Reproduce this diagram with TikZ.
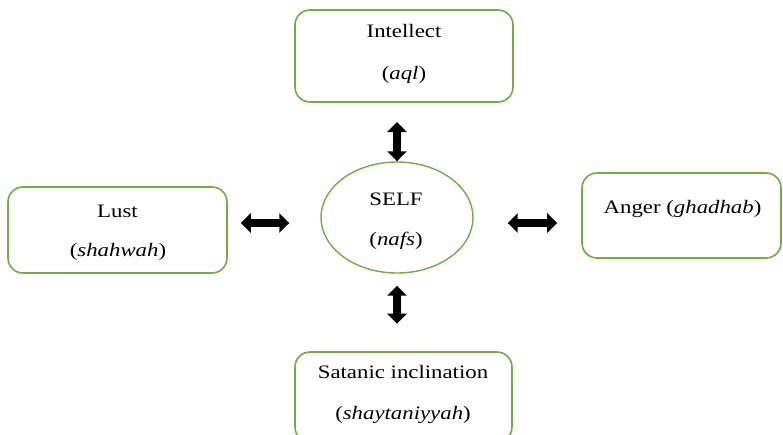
\documentclass[tikz,border=0pt]{standalone}
\usepackage{fontspec}
\setmainfont[FakeStretch=1.2]{Liberation Serif}
\usetikzlibrary{shapes.geometric,arrows.meta}
\definecolor{boxgreen}{RGB}{112,173,71}
\tikzset{
  box/.style={draw=boxgreen, line width=1.6pt, rounded corners=15pt, inner sep=0pt},
  selfshape/.style={draw=boxgreen, line width=1.4pt, ellipse, inner sep=0pt, minimum width=152pt, minimum height=111pt},
  lbl/.style={anchor=base, inner sep=0pt, font=\fontsize{19}{21}\selectfont, text=black},
  fat/.style={line width=7.5pt, {Triangle[width=19pt,length=10pt]}-{Triangle[width=19pt,length=10pt]}}
}
\begin{document}
\begin{tikzpicture}[x=1pt,y=-1pt]
\clip (0,0) rectangle (783,434);
\fill[white] (0,0) rectangle (783,434);
% boxes
\node[box, minimum width=218pt, minimum height=92pt] (intellect) at (404,56) {};
\node[box, minimum width=219pt, minimum height=86pt] (lust) at (117.5,230) {};
\node[box, minimum width=199pt, minimum height=85pt] (anger) at (681.5,215.5) {};
\node[box, minimum width=217pt, minimum height=90pt] (satanic) at (403.5,397) {};
\node[selfshape] (self) at (397,217.5) {};
% labels
\node[lbl] (t1) at (404,37) {Intellect};
\node[lbl] (t2) at (404,79) {(\textit{aql})};
\node[lbl] (t3) at (117.5,217) {Lust};
\node[lbl] (t4) at (118,256) {(\textit{shahwah})};
\node[lbl] (t5) at (396,205) {SELF};
\node[lbl] (t6) at (396,245) {(\textit{nafs})};
\node[lbl] (t7) at (682.5,213) {Anger (\textit{ghadhab})};
\node[lbl] (t8) at (403,378) {Satanic inclination};
\node[lbl] (t9) at (403,419) {(\textit{shaytaniyyah})};
% arrows
\coordinate (hy) at (0,223);
\draw[fat] ([xshift=13pt]lust.east |- hy) -- ([xshift=-31pt]self.west |- hy);
\draw[fat] ([xshift=34pt]self.east |- hy) -- ([xshift=-24pt]anger.west |- hy);
\draw[fat] (self.north |- 0,122) -- (self.north);
\draw[fat] ([yshift=-12pt]self.south) -- ([yshift=-50pt]self.south);
\end{tikzpicture}
\end{document}
